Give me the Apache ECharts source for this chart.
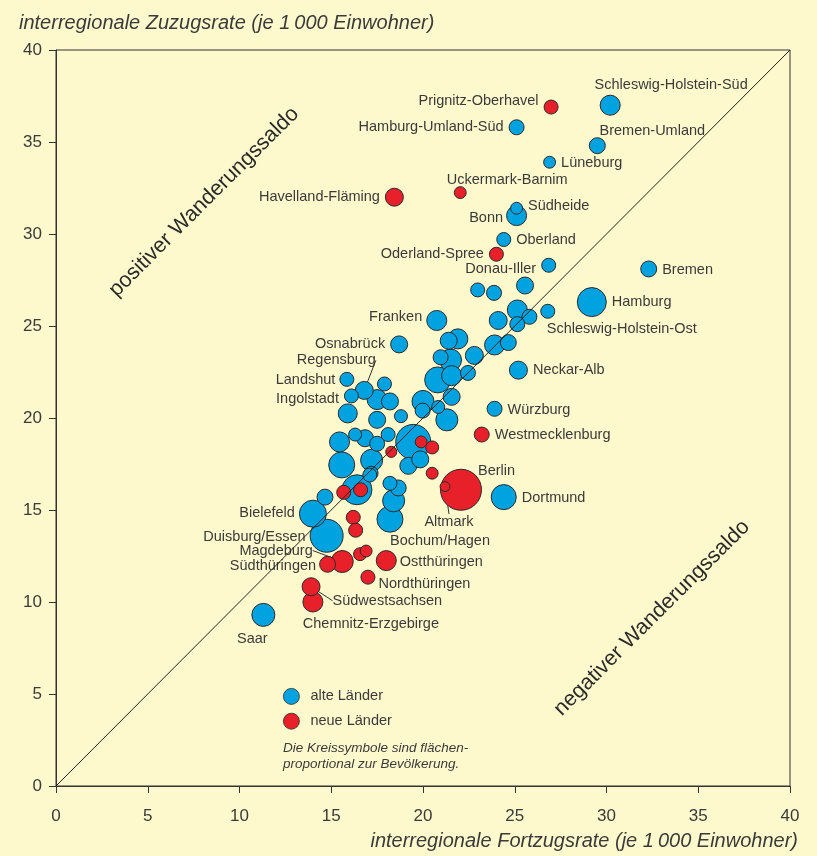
<!DOCTYPE html>
<html>
<head>
<meta charset="utf-8">
<title>Interregionale Zuzugs- und Fortzugsraten</title>
<script src="https://cdn.jsdelivr.net/npm/echarts@6/dist/echarts.min.js"></script>
<style>
  html, body { margin: 0; padding: 0; background: #fef9cd; }
  #chart { width: 817px; height: 856px; }
</style>
</head>
<body>
<div id="chart"></div>
<script>
// Achsen (beide 0 bis 40, Schritt 5)
const tickValues = [0, 5, 10, 15, 20, 25, 30, 35, 40]

// alte Länder: Fortzugsrate (x), Zuzugsrate (y), Bevölkerung (Tsd.)
const altNames = [
  'Schleswig-Holstein-Süd', 'Hamburg-Umland-Süd', 'Bremen-Umland', 'Lüneburg', 'Südheide', 'Bonn',
  'Oberland', 'Donau-Iller', 'Bremen', 'Hamburg', 'Schleswig-Holstein-Ost', 'Neckar-Alb', 'Würzburg',
  'Dortmund', 'Franken', 'Osnabrück', 'Landshut', 'Ingolstadt', 'Regensburg', 'Bielefeld',
  'Duisburg/Essen', 'Bochum/Hagen', 'Saar',
  '', '', '', '', '', '', '', '', '', '', '', '', '', '', '', '', '', '', '', '', '', '', '',
  '', '', '', '', '', '', '', '', '', '', '', '', '', '', '', '', '', '', '', '', '', ''
]
const altFortzug = [
  30.2, 25.1, 29.5, 26.9, 25.1, 25.1, 24.4, 26.85, 32.3, 29.2, 26.8, 25.2, 23.9,
  24.4, 20.75, 18.7, 15.85, 16.1, 16.8, 14.0, 14.75, 18.2, 11.3,
  22.98, 23.87, 25.56, 25.14, 25.8, 24.1, 25.14, 23.9, 24.65, 22.8, 21.9, 21.4, 21.5, 20.96, 20.8,
  21.56, 22.45, 21.56, 20.0, 19.98, 20.83, 21.3, 18.8, 18.2, 17.5, 17.9, 15.9, 17.5, 16.3, 16.84,
  17.5, 18.1, 15.45, 15.57, 17.2, 17.17, 19.47, 19.2, 19.85, 14.66, 16.4, 17.1, 18.2, 18.65, 18.4
]
const altZuzug = [
  37.0, 35.8, 34.8, 33.9, 31.4, 31.0, 29.7, 28.3, 28.1, 26.3, 25.8, 22.6, 20.5,
  15.7, 25.3, 24.0, 22.1, 21.2, 21.5, 14.8, 13.6, 14.5, 9.3,
  26.96, 26.8, 27.2, 25.87, 25.5, 25.3, 25.1, 23.97, 24.1, 23.4, 24.3, 24.2, 23.15, 23.3, 22.07,
  22.3, 22.45, 21.15, 20.9, 20.4, 20.6, 19.9, 20.1, 20.9, 21.0, 21.85, 20.25, 19.9, 19.1, 18.9,
  18.6, 19.1, 18.7, 17.45, 17.7, 17.0, 18.7, 17.4, 17.75, 15.7, 16.1, 16.9, 16.45, 16.2, 15.5
]
const altPop = [
  820, 460, 520, 290, 290, 820, 400, 400, 520, 1720, 400, 660, 460,
  1280, 820, 590, 400, 400, 660, 1490, 2220, 1380, 1080,
  400, 460, 590, 820, 460, 660, 460, 820, 520, 660, 820, 590, 990, 460, 1380,
  820, 460, 590, 990, 460, 345, 990, 345, 590, 820, 400, 740, 590, 345, 590,
  460, 400, 820, 1380, 990, 400, 2500, 590, 590, 520, 1840, 400, 400, 520, 990
]

// neue Länder
const neuNames = [
  'Prignitz-Oberhavel', 'Havelland-Fläming', 'Uckermark-Barnim', 'Oderland-Spree', 'Westmecklenburg',
  'Berlin', 'Altmark', 'Magdeburg', 'Südthüringen', 'Ostthüringen', 'Nordthüringen', 'Südwestsachsen',
  'Chemnitz-Erzgebirge', '', '', '', '', '', '', '', '', '', ''
]
const neuFortzug = [26.98, 18.44, 22.03, 24.0, 23.2, 22.07, 21.2, 15.6, 14.8, 18.0, 17.0, 13.9, 14.0,
  20.5, 19.9, 20.5, 18.27, 16.57, 16.9, 16.2, 16.33, 15.68, 16.6]
const neuZuzug = [36.9, 32.0, 32.25, 28.9, 19.1, 16.1, 16.27, 12.2, 12.05, 12.25, 11.35, 10.83, 10.0,
  17.0, 18.7, 18.4, 18.16, 12.6, 12.77, 14.6, 13.9, 15.96, 16.1]
const neuPop = [400, 660, 290, 400, 460, 3430, 200, 990, 520, 820, 400, 660, 820,
  290, 290, 345, 250, 345, 290, 400, 400, 400, 400]

// Gleichgewichtslinie Zuzug = Fortzug
const diagonal = [[0, 0], [40, 40]]

// Beschriftung: Position, Verschiebung dx/dy, Hinweislinie
const labelCfg = {
  'Schleswig-Holstein-Süd': ['top', 61, 3],
  'Prignitz-Oberhavel': ['left', 0, -6],
  'Hamburg-Umland-Süd': ['left', 0, 0],
  'Bremen-Umland': ['top', 55, 6],
  'Lüneburg': ['right', 0, 1],
  'Uckermark-Barnim': ['top', 47, 6],
  'Havelland-Fläming': ['left', 0, 0],
  'Südheide': ['right', 0, -2],
  'Bonn': ['left', 2, 2],
  'Oberland': ['right', 0, 0],
  'Oderland-Spree': ['left', 0, 0],
  'Donau-Iller': ['left', 0, 4],
  'Bremen': ['right', 0, 1],
  'Hamburg': ['right', 0, 0],
  'Schleswig-Holstein-Ost': ['bottom', 74, -2],
  'Neckar-Alb': ['right', 0, 0],
  'Würzburg': ['right', 0, 1],
  'Westmecklenburg': ['right', 0, 0],
  'Berlin': ['right', -9, -19],
  'Dortmund': ['right', 0, 1],
  'Altmark': ['bottom', 4, 17, true],
  'Bochum/Hagen': ['bottom', 50, -4],
  'Franken': ['left', 1, -3],
  'Osnabrück': ['left', 0, 0],
  'Regensburg': ['top', -28, -8, true],
  'Landshut': ['left', 1, 1],
  'Ingolstadt': ['left', 0, 3],
  'Bielefeld': ['left', 1, -1],
  'Duisburg/Essen': ['left', 1, 1],
  'Magdeburg': ['left', -13, -11, true],
  'Südthüringen': ['left', 2, 2],
  'Ostthüringen': ['right', -2, 1],
  'Nordthüringen': ['right', -2, 7],
  'Südwestsachsen': ['right', 7, 14, true],
  'Chemnitz-Erzgebirge': ['bottom', 58, -1],
  'Saar': ['bottom', -11, 0]
}

const FONT = '"Liberation Sans", Arial, Helvetica, sans-serif'
const TEXT = '#3a3a3a'

// Kreisfläche proportional zur Bevölkerung
const sizeOf = pop => 0.7 * Math.sqrt(pop)

const buildItems = (names, xs, ys, pops) => {
  const items = names.map((name, i) => {
    const cfg = labelCfg[name]
    const item = {
      name: name,
      value: [xs[i], ys[i], pops[i]],
      symbolSize: sizeOf(pops[i]),
      label: { show: !!cfg, position: cfg ? cfg[0] : 'right' }
    }
    if (cfg && cfg[3]) {
      item.labelLine = { show: true, lineStyle: { color: '#333', width: 1 } }
    }
    return item
  })
  // große Kreise zuerst zeichnen
  return items.sort((a, b) => b.value[2] - a.value[2])
}

const altItems = buildItems(altNames, altFortzug, altZuzug, altPop)
const neuItems = buildItems(neuNames, neuFortzug, neuZuzug, neuPop)

const layoutFor = items => params => {
  const cfg = labelCfg[items[params.dataIndex].name]
  if (!cfg) return {}
  return { dx: cfg[1], dy: cfg[2] }
}

const scatterBase = {
  type: 'scatter',
  symbol: 'circle',
  label: {
    fontFamily: FONT,
    fontSize: 14.5,
    color: TEXT,
    distance: 5,
    formatter: '{b}'
  },
  labelLine: { show: false },
  emphasis: { disabled: true }
}

const titleStyle = { fontFamily: FONT, fontStyle: 'italic', fontWeight: 'normal', fontSize: 20, color: TEXT }

const chart = echarts.init(document.getElementById('chart'))

chart.setOption({
  backgroundColor: '#fef9cd',
  animation: false,
  textStyle: { fontFamily: FONT },
  title: [
    {
      text: 'interregionale Zuzugsrate (je 1\u2009000 Einwohner)',
      left: 19, top: 13, padding: 0,
      textStyle: titleStyle
    },
    {
      text: 'interregionale Fortzugsrate (je 1\u2009000 Einwohner)',
      right: 19, top: 831, padding: 0,
      textStyle: titleStyle
    }
  ],
  legend: {
    data: ['alte Länder', 'neue Länder'],
    orient: 'vertical',
    left: 283, top: 688,
    padding: 0,
    itemWidth: 16, itemHeight: 16, itemGap: 8,
    icon: 'circle',
    selectedMode: false,
    itemStyle: { borderWidth: 0.8, borderColor: '#2a2a2a' },
    textStyle: { fontFamily: FONT, fontSize: 14.5, color: TEXT, padding: [0, 0, 0, 6] }
  },
  grid: {
    left: 56, right: 27, top: 50, bottom: 70,
    show: true, borderColor: '#333', borderWidth: 1, backgroundColor: 'transparent'
  },
  xAxis: {
    type: 'value',
    min: tickValues[0], max: tickValues[tickValues.length - 1], interval: 5,
    axisLine: { lineStyle: { color: '#333' } },
    axisTick: { show: true, inside: false, length: 7, lineStyle: { color: '#333' } },
    axisLabel: { margin: 22, fontFamily: FONT, fontSize: 17, color: TEXT },
    splitLine: { show: false }
  },
  yAxis: {
    type: 'value',
    min: tickValues[0], max: tickValues[tickValues.length - 1], interval: 5,
    axisLine: { show: true, lineStyle: { color: '#333' } },
    axisTick: { show: true, inside: false, length: 7, lineStyle: { color: '#333' } },
    axisLabel: { margin: 14, fontFamily: FONT, fontSize: 17, color: TEXT },
    splitLine: { show: false }
  },
  series: [
    Object.assign({}, scatterBase, {
      name: 'alte Länder',
      data: altItems,
      itemStyle: { color: '#00a3e0', borderColor: '#2a2a2a', borderWidth: 1, opacity: 1 },
      labelLayout: layoutFor(altItems),
      z: 2
    }),
    Object.assign({}, scatterBase, {
      name: 'neue Länder',
      data: neuItems,
      itemStyle: { color: '#e8202a', borderColor: '#2a2a2a', borderWidth: 1, opacity: 1 },
      labelLayout: layoutFor(neuItems),
      z: 3
    }),
    {
      type: 'line',
      data: diagonal,
      symbol: 'none',
      silent: true,
      lineStyle: { color: '#222', width: 1 },
      z: 5
    }
  ],
  graphic: [
    {
      type: 'text', x: 204, y: 202, rotation: Math.PI / 4,
      style: {
        text: 'positiver Wanderungssaldo', fill: '#2a2a2a',
        font: '21.5px ' + FONT, textAlign: 'center', textVerticalAlign: 'middle',
        align: 'center', verticalAlign: 'middle'
      }
    },
    {
      type: 'text', x: 652, y: 618, rotation: Math.PI / 4,
      style: {
        text: 'negativer Wanderungssaldo', fill: '#2a2a2a',
        font: '21.5px ' + FONT, textAlign: 'center', textVerticalAlign: 'middle',
        align: 'center', verticalAlign: 'middle'
      }
    },
    {
      type: 'text', left: 283, top: 740,
      style: {
        text: 'Die Kreissymbole sind flächen-\nproportional zur Bevölkerung.',
        fill: '#3a3a3a', font: 'italic 13.5px ' + FONT, lineHeight: 16
      }
    }
  ]
})

window.addEventListener('resize', () => chart.resize())
</script>
</body>
</html>
